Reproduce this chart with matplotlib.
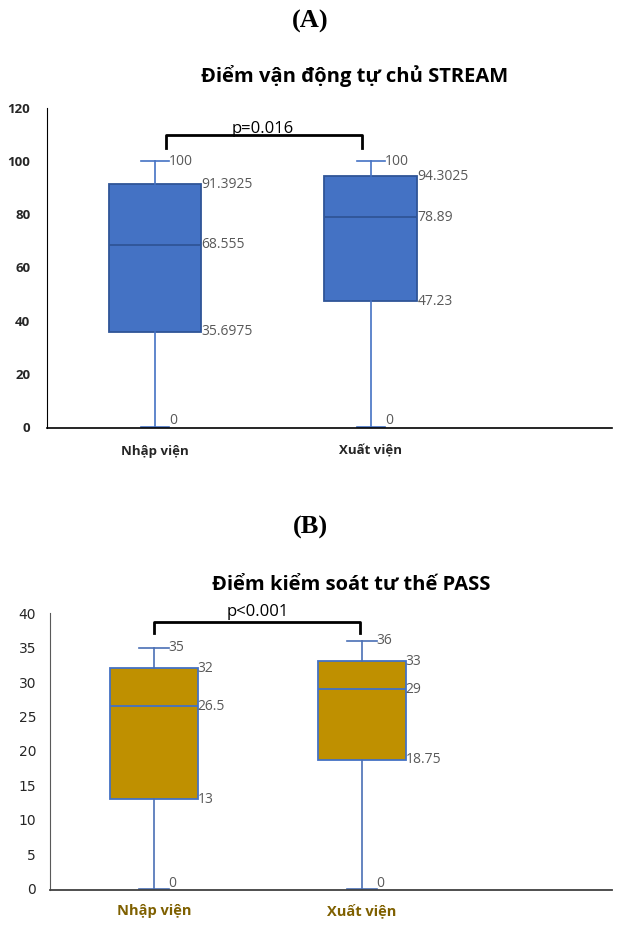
import matplotlib.pyplot as plt

plt.rcParams['font.family'] = ['Open Sans', 'DejaVu Sans']

groups = ['Nhập viện', 'Xuất viện']

# STREAM: min, q1, median, q3, max
stream_min = [0, 0]
stream_q1 = [35.6975, 47.23]
stream_med = [68.555, 78.89]
stream_q3 = [91.3925, 94.3025]
stream_max = [100, 100]

# PASS
pass_min = [0, 0]
pass_q1 = [13, 18.75]
pass_med = [26.5, 29]
pass_q3 = [32, 33]
pass_max = [35, 36]

def make_stats(lo, q1, med, q3, hi):
    out = []
    for i in range(len(lo)):
        out.append({'whislo': lo[i], 'q1': q1[i], 'med': med[i], 'q3': q3[i],
                    'whishi': hi[i], 'fliers': []})
    return out

def fmt(v):
    return ('%g' % v)

fig = plt.figure(figsize=(6.2, 9.25), dpi=100)

fig.text(0.5, 0.977, '(A)', ha='center', va='center', fontsize=19,
         fontweight='bold', family='Liberation Serif')
fig.text(0.5, 0.430, '(B)', ha='center', va='center', fontsize=19,
         fontweight='bold', family='Liberation Serif')

def draw(ax, stats, width, fill, edge, wcol, cap, yr):
    ax.bxp(stats, positions=[1, 2], widths=width, patch_artist=True,
           showfliers=False,
           boxprops=dict(facecolor=fill, edgecolor=edge, linewidth=1.3),
           medianprops=dict(color=edge, linewidth=1.3),
           whiskerprops=dict(color=wcol, linewidth=1.2),
           capprops=dict(color=wcol, linewidth=1.2),
           capwidths=cap)
    for i, s in enumerate(stats):
        x = i + 1
        for key in ['q1', 'med', 'q3']:
            ax.text(x + width / 2, s[key], fmt(s[key]), ha='left',
                    va='center', fontsize=10, color='#595959')
        ax.text(x + cap / 2, s['whishi'], fmt(s['whishi']), ha='left',
                va='center', fontsize=10, color='#595959')
        ax.text(x + cap / 2, s['whislo'] + yr * 0.02, fmt(s['whislo']),
                ha='left', va='center', fontsize=10, color='#595959')
    for sp in ['top', 'right']:
        ax.spines[sp].set_visible(False)
    ax.tick_params(length=0)
    ax.set_xticks([1, 2])
    ax.set_xticklabels(groups)

# Panel A
axA = fig.add_axes([0.0758, 0.537, 0.911, 0.346])
draw(axA, make_stats(stream_min, stream_q1, stream_med, stream_q3, stream_max),
     0.43, '#4472C4', '#2F5597', '#4472C4', 0.13, 120)
axA.set_xlim(0.5, 3.116)
axA.set_ylim(-0.6, 120)
axA.set_yticks(range(0, 121, 20))
for lab in axA.get_yticklabels():
    lab.set_fontweight('bold')
    lab.set_fontsize(9.5)
    lab.set_color('#262626')
for lab in axA.get_xticklabels():
    lab.set_fontweight('bold')
    lab.set_fontsize(9.5)
    lab.set_color('#262626')
axA.tick_params(axis='y', pad=12)
axA.tick_params(axis='x', pad=12)
axA.spines['left'].set_color('black')
axA.spines['bottom'].set_color('black')
axA.spines['bottom'].set_linewidth(1.2)
axA.plot([1.05, 1.05, 1.96, 1.96], [105, 110, 110, 105], color='black', lw=2,
         clip_on=False)
axA.text(1.5, 112.3, 'p=0.016', ha='center', va='center', fontsize=12,
         color='black')
fig.text(0.572, 0.918, 'Điểm vận động tự chủ STREAM', ha='center',
         va='center', fontsize=14.5, fontweight='bold')

# Panel B
axB = fig.add_axes([0.0806, 0.0378, 0.906, 0.2992])
draw(axB, make_stats(pass_min, pass_q1, pass_med, pass_q3, pass_max),
     0.42, '#BF9000', '#4472C4', '#4A6FB5', 0.14, 40)
axB.set_xlim(0.5, 3.2)
axB.set_ylim(-0.2, 40)
axB.set_yticks(range(0, 41, 5))
for lab in axB.get_yticklabels():
    lab.set_fontsize(10)
    lab.set_color('#262626')
    lab.set_family('DejaVu Sans')
for lab in axB.get_xticklabels():
    lab.set_fontweight('bold')
    lab.set_fontsize(10.5)
    lab.set_color('#7F6000')
axB.tick_params(axis='y', pad=10)
axB.tick_params(axis='x', pad=10)
axB.spines['left'].set_color('#595959')
axB.spines['bottom'].set_color('#404040')
axB.spines['bottom'].set_linewidth(1.3)
axB.plot([1.0, 1.0, 1.99, 1.99], [37.1, 38.7, 38.7, 37.1], color='black',
         lw=2, clip_on=False)
axB.text(1.5, 40.2, 'p<0.001', ha='center', va='center', fontsize=12,
         color='black')
fig.text(0.566, 0.368, 'Điểm kiểm soát tư thế PASS', ha='center',
         va='center', fontsize=14.5, fontweight='bold')

fig.savefig('out.png', dpi=100)
